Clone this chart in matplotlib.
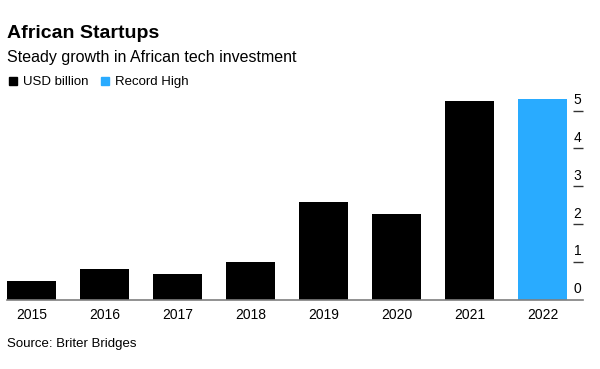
import matplotlib
matplotlib.use("Agg")
import matplotlib.pyplot as plt
from matplotlib.patches import Rectangle
from matplotlib.transforms import ScaledTranslation

plt.rcParams["font.family"] = ["Liberation Sans", "DejaVu Sans"]

# data
years = ["2015", "2016", "2017", "2018", "2019", "2020", "2021", "2022"]
usd_billion = [0.48, 0.82, 0.68, 1.0, 2.57, 2.25, 5.25, 5.31]
record_flags = [False, False, False, False, False, False, False, True]
y_ticks = [0, 1, 2, 3, 4, 5]

BLACK = "#000000"
BLUE = "#29abff"

fig = plt.figure(figsize=(6.0, 3.69), dpi=100)
ax = fig.add_axes([7 / 600, 69.5 / 369, 576 / 600, 240 / 369])

x = list(range(len(years)))
colors = [BLUE if r else BLACK for r in record_flags]
ax.bar(x, usd_billion, width=0.67, color=colors, linewidth=0)

ax.set_xlim(-0.335, len(years) - 1 + 0.555)
ax.set_ylim(0, 240 / 37.8)

for side in ["top", "left", "right"]:
    ax.spines[side].set_visible(False)
ax.spines["bottom"].set_color("#7f7f7f")
ax.spines["bottom"].set_linewidth(1.2)

ax.set_xticks(x)
ax.set_xticklabels(years)
ax.tick_params(axis="x", length=0, pad=6, labelsize=10)

ax.yaxis.tick_right()
ax.set_yticks(y_ticks)
ax.set_yticklabels([str(t) for t in y_ticks])
ax.tick_params(axis="y", direction="in", length=7, width=1.0, color="#333333",
               labelsize=10, pad=0)
# labels sit centred above the short tick dashes
shift = ScaledTranslation(-4 / 72, 8.5 / 72, fig.dpi_scale_trans)
for lab in ax.get_yticklabels():
    lab.set_horizontalalignment("center")
    lab.set_transform(lab.get_transform() + shift)
ax.yaxis.get_major_ticks()[0].tick2line.set_visible(False)

fig.text(7 / 600, 1 - 38.5 / 369, "African Startups", fontsize=14, fontweight="bold",
         va="baseline")
fig.text(7 / 600, 1 - 62 / 369, "Steady growth in African tech investment", fontsize=11.5,
         va="baseline")

# legend
leg_y = 1 - 85 / 369
fig.patches.append(Rectangle((9 / 600, leg_y), 8 / 600, 8 / 369, color=BLACK,
                             transform=fig.transFigure, figure=fig))
fig.text(23 / 600, leg_y, "USD billion", fontsize=9.5, va="baseline")
fig.patches.append(Rectangle((101 / 600, leg_y), 8 / 600, 8 / 369, color=BLUE,
                             transform=fig.transFigure, figure=fig))
fig.text(115 / 600, leg_y, "Record High", fontsize=9.5, va="baseline")

fig.text(7 / 600, 1 - 347 / 369, "Source: Briter Bridges", fontsize=9.5, va="baseline")

fig.savefig("out.png", dpi=100)
